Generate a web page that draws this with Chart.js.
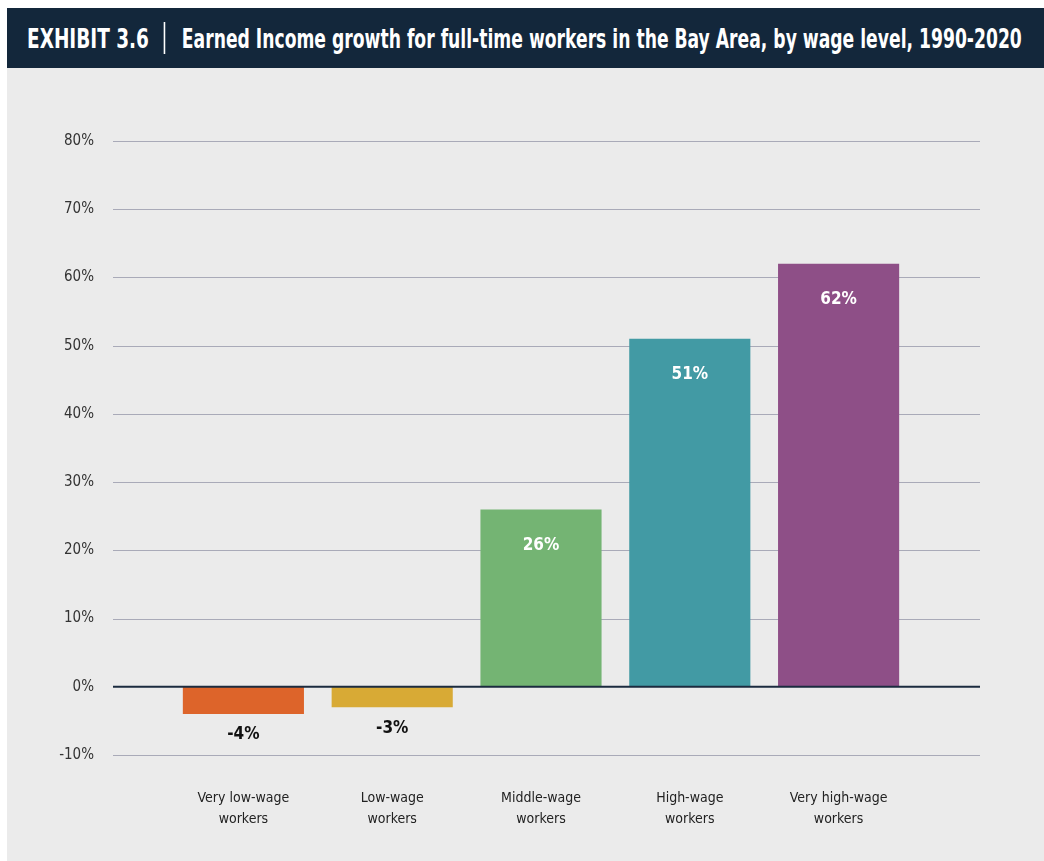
<!DOCTYPE html>
<html>
<head>
<meta charset="utf-8">
<script src="https://cdn.jsdelivr.net/npm/chart.js@4.4.1/dist/chart.umd.min.js"></script>
<style>
    body { margin: 0; background: #fff; width: 1044px; height: 861px; overflow: hidden; position: relative; }
    .header {
        position: absolute; left: 7px; top: 8px; width: 1037px; height: 60px;
        background: #13273b; color: #fff; overflow: hidden;
    }
    .header .line {
        position: absolute; left: 20px; top: 0; line-height: 62px; white-space: nowrap;
        font-family: 'DejaVu Sans Condensed', 'Liberation Sans Narrow', sans-serif;
        font-weight: bold; font-size: 26px;
        transform: scaleX(0.79); transform-origin: left center;
    }
    .header .sep { display: inline-block; width: 1.5px; height: 32px; background: #fff; vertical-align: -6px; margin: 0 21px 0 19px; }
    .header .title { display: inline-block; transform: scaleX(0.93); transform-origin: left center; }
    .panel { position: absolute; left: 7px; top: 68px; width: 1037px; height: 793px; background: #ebebeb; }
</style>
</head>
<body>
<div class="header"><div class="line">EXHIBIT 3.6<span class="sep"></span><span class="title">Earned Income growth for full-time workers in the Bay Area, by wage level, 1990-2020</span></div></div>
<div class="panel"><canvas id="growthChart" width="1037" height="793"></canvas></div>
<script>
const categories = [
    ['Very low-wage', 'workers'],
    ['Low-wage', 'workers'],
    ['Middle-wage', 'workers'],
    ['High-wage', 'workers'],
    ['Very high-wage', 'workers']
];
const growth = [-4, -3, 26, 51, 62];
const barColors = ['#dd642a', '#d8aa35', '#74b473', '#429aa4', '#8e4f87'];
const yTicks = [-10, 0, 10, 20, 30, 40, 50, 60, 70, 80];

const narrow = "'DejaVu Sans Condensed', 'Liberation Sans Narrow', sans-serif";

// horizontal rules run wider than the bar area
const gridLines = {
    id: 'gridLines',
    beforeDatasetsDraw(chart) {
        const { ctx, scales: { y } } = chart;
        ctx.save();
        ctx.strokeStyle = '#a9aab8';
        ctx.lineWidth = 1.2;
        yTicks.forEach(v => {
            if (v === 0) return;
            const py = Math.round(y.getPixelForValue(v)) + 0.5;
            ctx.beginPath();
            ctx.moveTo(106, py);
            ctx.lineTo(973, py);
            ctx.stroke();
        });
        ctx.restore();
    },
    afterDatasetsDraw(chart) {
        const { ctx, scales: { y } } = chart;
        const py = y.getPixelForValue(0);
        ctx.save();
        ctx.strokeStyle = '#1b2b3f';
        ctx.lineWidth = 2;
        ctx.beginPath();
        ctx.moveTo(106, py);
        ctx.lineTo(973, py);
        ctx.stroke();
        ctx.restore();
    }
};

// value labels: inside the bar top for gains, under the bar for losses
const valueLabels = {
    id: 'valueLabels',
    afterDatasetsDraw(chart) {
        const { ctx } = chart;
        const meta = chart.getDatasetMeta(0);
        ctx.save();
        ctx.font = 'bold 17px ' + narrow;
        ctx.textAlign = 'center';
        ctx.textBaseline = 'middle';
        meta.data.forEach((bar, i) => {
            const v = growth[i];
            if (v >= 0) {
                ctx.fillStyle = '#ffffff';
                ctx.fillText(v + '%', bar.x, bar.y + 36);
            } else {
                ctx.fillStyle = '#111111';
                ctx.fillText(v + '%', bar.x, bar.y + 21);
            }
        });
        ctx.restore();
    }
};

new Chart(document.getElementById('growthChart'), {
    type: 'bar',
    data: {
        labels: categories,
        datasets: [{
            data: growth,
            backgroundColor: barColors,
            barPercentage: 0.814,
            categoryPercentage: 1
        }]
    },
    options: {
        responsive: false,
        animation: false,
        layout: { padding: { left: 0, right: 131, top: 73, bottom: 0 } },
        plugins: { legend: { display: false }, tooltip: { enabled: false } },
        scales: {
            x: {
                grid: { display: false },
                border: { display: false },
                afterFit(axis) { axis.height = 106; },
                ticks: { color: '#222', font: { family: narrow, size: 14, lineHeight: 1.5 }, padding: 25, maxRotation: 0, autoSkip: false }
            },
            y: {
                min: -10,
                max: 80,
                afterBuildTicks(axis) { axis.ticks = yTicks.map(v => ({ value: v })); },
                afterFit(axis) {
                    axis.width = 162;
                    axis.paddingTop = 0;
                    axis.paddingBottom = 0;
                },
                grid: { display: false },
                border: { display: false },
                ticks: { color: '#333', font: { family: narrow, size: 15 }, padding: 67, callback: v => v + '%' }
            }
        }
    },
    plugins: [gridLines, valueLabels]
});
</script>
</body>
</html>
